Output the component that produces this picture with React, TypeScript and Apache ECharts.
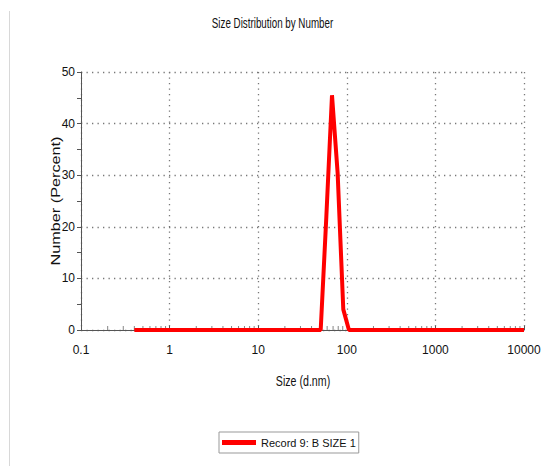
import React, { useEffect, useRef } from "react";
import * as echarts from "echarts";

const seriesName = "Record 9: B SIZE 1";
const sizes = [0.4, 50.75, 58.77, 68.06, 78.82, 91.28, 105.7, 10000];
const numbers = [0, 0, 22, 45.5, 30.4, 4, 0, 0];
const minorTickValues = [
  0.2, 0.3, 0.4, 0.5, 0.6, 0.7, 0.8, 0.9,
  2, 3, 4, 5, 6, 7, 8, 9,
  20, 30, 40, 50, 60, 70, 80, 90,
  200, 300, 400, 500, 600, 700, 800, 900,
  2000, 3000, 4000, 5000, 6000, 7000, 8000, 9000,
];
const titleText = "Size Distribution by Number";
const xName = "Size (d.nm)";
const yName = "Number (Percent)";

const SANS = "'Liberation Sans', Arial, sans-serif";

export default function App() {
  const ref = useRef<HTMLDivElement>(null);
  useEffect(() => {
    if (!ref.current) return;
    const chart = echarts.init(ref.current, null, { renderer: "svg" });
    const dotted = { color: "#777", width: 1.3, type: [1.3, 4.2] as any };
    chart.setOption({
      animation: false,
      backgroundColor: "#fff",
      grid: { left: 81, right: 33, top: 72, bottom: 136, containLabel: false },
      graphic: [
        { type: "line", shape: { x1: 9.5, y1: 11, x2: 9.5, y2: 466 }, style: { stroke: "#d8d8d8", lineWidth: 1 } },
        {
          type: "text", x: 272.5, y: 23, scaleX: 0.7,
          style: { text: titleText, font: `14px ${SANS}`, fill: "#111", align: "center", verticalAlign: "middle" },
        },
        {
          type: "text", x: 303, y: 381, scaleX: 0.76,
          style: { text: xName, font: `14px ${SANS}`, fill: "#111", align: "center", verticalAlign: "middle" },
        },
        {
          type: "text", x: 56, y: 201, rotation: Math.PI / 2, scaleX: 1.25,
          style: { text: yName, font: `13px ${SANS}`, fill: "#111", align: "center", verticalAlign: "middle" },
        },
      ],
      legend: {
        data: [seriesName],
        left: 219, top: 432,
        icon: "rect",
        itemWidth: 34, itemHeight: 5, itemGap: 10,
        padding: [5, 3, 5, 3],
        borderColor: "#999", borderWidth: 1,
        textStyle: { fontFamily: SANS, fontSize: 11, color: "#111", padding: [1, 0, 0, 0] },
      },
      xAxis: {
        type: "log", logBase: 10, min: 0.1, max: 10000,
        axisLine: { show: true, lineStyle: { color: "#555", width: 1 } },
        axisTick: { show: true, inside: true, length: 4, lineStyle: { color: "#555" } },
        axisLabel: {
          interval: 0, margin: 14, fontFamily: SANS, fontSize: 12, color: "#111",
          formatter: (v: number) => String(v),
        },
        splitLine: { show: true, lineStyle: dotted },
      },
      yAxis: {
        type: "value", min: 0, max: 50, interval: 10,
        axisLine: { show: true, lineStyle: { color: "#555", width: 1 } },
        axisTick: { show: true, length: 4, lineStyle: { color: "#555" } },
        minorTick: { show: true, splitNumber: 2, length: 4, lineStyle: { color: "#555" } },
        axisLabel: { margin: 6, fontFamily: SANS, fontSize: 12, color: "#111" },
        splitLine: { show: true, lineStyle: dotted },
      },
      series: [
        {
          name: "minorTicks", type: "scatter", silent: true, z: 1,
          data: minorTickValues.map((v) => [v, 0]),
          symbol: "rect", symbolSize: [1, 4], symbolOffset: [0, -2],
          itemStyle: { color: "#666" },
        },
        {
          name: seriesName, type: "line", z: 3,
          data: sizes.map((s, i) => [s, numbers[i]]),
          showSymbol: false, symbol: "none",
          lineStyle: { color: "#ff0000", width: 4 },
          itemStyle: { color: "#ff0000" },
        },
      ],
    });
    return () => chart.dispose();
  }, []);
  return (
    <div
      ref={ref}
      style={{ position: "fixed", left: 0, top: 0, width: 557, height: 466 }}
    />
  );
}
